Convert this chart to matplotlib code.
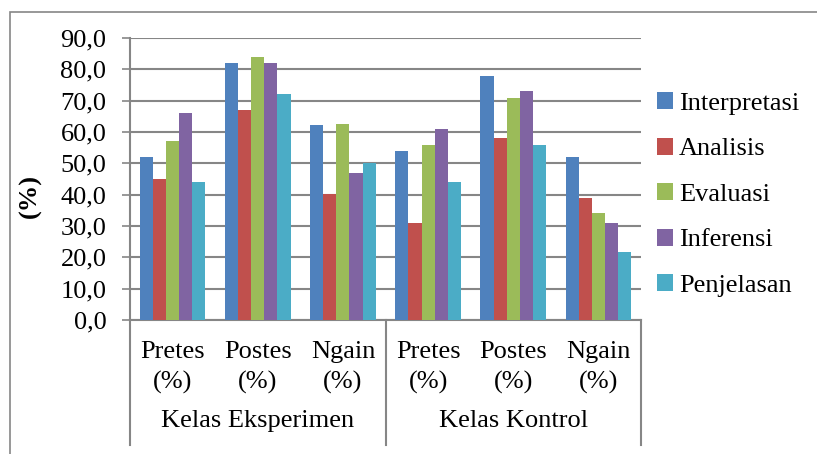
import matplotlib
matplotlib.use("Agg")
import matplotlib.pyplot as plt
from matplotlib.lines import Line2D
from matplotlib.patches import Rectangle
import numpy as np

plt.rcParams['font.family'] = ['Liberation Serif', 'DejaVu Serif']

groups = ["Kelas Eksperimen", "Kelas Kontrol"]
categories = ["Pretes\n(%)", "Postes\n(%)", "Ngain\n(%)"] * 2
series = ["Interpretasi", "Analisis", "Evaluasi", "Inferensi", "Penjelasan"]
values = {
    "Interpretasi": [52, 82, 62.3, 54, 78, 52.1],
    "Analisis":     [45, 67, 40.1, 31, 58, 39.0],
    "Evaluasi":     [57, 84, 62.7, 56, 71, 34.1],
    "Inferensi":    [66, 82, 47.0, 61, 73, 30.8],
    "Penjelasan":   [44, 72, 50.0, 44, 56, 21.6],
}
colors = ["#4F81BD", "#C0504D", "#9BBB59", "#8064A2", "#4BACC6"]
yticks = [0, 10, 20, 30, 40, 50, 60, 70, 80, 90]
ytick_labels = ["0,0", "10,0", "20,0", "30,0", "40,0", "50,0", "60,0", "70,0", "80,0", "90,0"]

FS = 19
W, H = 817, 454
fig = plt.figure(figsize=(W / 100, H / 100), dpi=100)
ax = fig.add_axes([130 / W, 1 - 320 / H, (641 - 130) / W, (320 - 38) / H])

grid_c = "#868686"
n = len(categories)
x = np.arange(n)
bw = 1 / (5 + 1.5)
for i, s in enumerate(series):
    ax.bar(x - 0.5 + 0.75 * bw + i * bw + bw / 2, values[s], width=bw,
           color=colors[i], label=s, zorder=3, edgecolor="none")

ax.set_xlim(-0.5, n - 0.5)
ax.set_ylim(0, 90)
ax.set_yticks(yticks)
ax.set_yticklabels(ytick_labels, fontsize=FS)
ax.yaxis.grid(True, color=grid_c, linewidth=1.5, zorder=0)
ax.set_axisbelow(True)
for side in ["top", "right"]:
    ax.spines[side].set_visible(False)
for side in ["left", "bottom"]:
    ax.spines[side].set_color(grid_c)
    ax.spines[side].set_linewidth(1.5)
ax.tick_params(axis="y", length=6, width=1.2, color=grid_c, pad=11)
ax.set_xticks(x)
ax.set_xticklabels(categories, fontsize=FS, linespacing=1.45)
ax.tick_params(axis="x", length=0, pad=15)

ax.set_ylabel("(%)", fontsize=FS, fontweight="bold")
ax.yaxis.set_label_coords(-88 / (641 - 130), 0.44)

# group separators and labels
for xp in [130, 386, 641]:
    fig.add_artist(Line2D([xp / W, xp / W], [1 - 320 / H, 1 - 445 / H],
                          color=grid_c, linewidth=1.5))
for gi, g in enumerate(groups):
    fig.text((130 + 128 + gi * 256) / W, 1 - 427 / H, g, fontsize=FS,
             ha="center", va="baseline")

# chart border
fig.add_artist(Rectangle((10 / W, -0.1), 2, 1 - 12 / H + 0.1, fill=False,
                         edgecolor=grid_c, linewidth=1.2, transform=fig.transFigure))

leg = fig.legend(loc="upper left", bbox_to_anchor=(657 / W, 1 - 92 / H), frameon=False,
                 fontsize=FS, handlelength=0.62, handleheight=0.62, handletextpad=0.22,
                 labelspacing=0.86, borderaxespad=0, borderpad=0)

fig.savefig("out.png", dpi=100)
